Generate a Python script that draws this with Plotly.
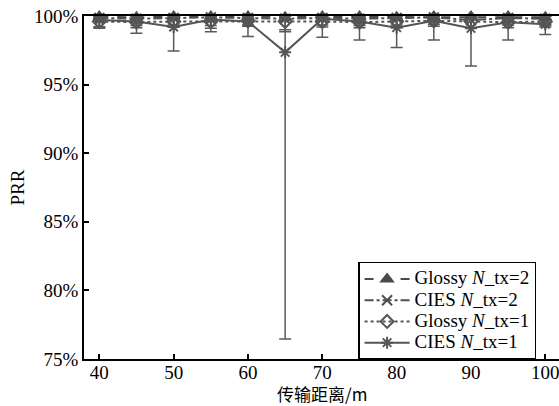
import plotly.graph_objects as go

# Transmission distance (m)
distance = [40, 45, 50, 55, 60, 65, 70, 75, 80, 85, 90, 95, 100]

# Packet reception ratio (%) per scheme
glossy_tx2 = [99.95, 99.9, 99.95, 99.95, 99.95, 99.9, 99.95, 99.95, 99.9, 99.95, 99.95, 99.95, 99.9]
cies_tx2 = [99.85, 99.8, 99.85, 99.9, 99.85, 99.8, 99.85, 99.8, 99.85, 99.9, 99.7, 99.85, 99.8]
glossy_tx1 = [99.6, 99.55, 99.6, 99.6, 99.65, 99.6, 99.6, 99.55, 99.6, 99.65, 99.6, 99.55, 99.6]
cies_tx1 = [99.7, 99.6, 99.2, 99.75, 99.6, 97.35, 99.8, 99.6, 99.15, 99.65, 99.1, 99.55, 99.4]

# Standard deviations (%)
glossy_tx2_err = [0.2, 0.2, 0.2, 0.2, 0.2, 0.2, 0.2, 0.2, 0.2, 0.2, 0.2, 0.2, 0.2]
cies_tx2_err = [0.65, 0.5, 0.5, 0.6, 0.5, 0.8, 0.5, 0.5, 0.5, 0.5, 0.6, 0.5, 0.5]
glossy_tx1_err = [0.4, 0.4, 0.4, 0.5, 0.4, 0.75, 0.4, 0.4, 0.4, 0.4, 0.5, 0.4, 0.4]
cies_tx1_err = [0.6, 0.85, 1.75, 0.9, 1.1, 20.9, 1.35, 1.35, 1.45, 1.4, 2.75, 1.3, 0.75]

y_ticks = [75, 80, 85, 90, 95, 100]
y_tick_text = ["75%", "80%", "85%", "90%", "95%", "100%"]
x_ticks = [40, 50, 60, 70, 80, 90, 100]

series = [
    ("Glossy <i>N</i>_tx=2", glossy_tx2, glossy_tx2_err, "dash", "triangle-up", "#4a4a4a"),
    ("CIES <i>N</i>_tx=2", cies_tx2, cies_tx2_err, "dashdot", "x-thin-open", "#505050"),
    ("Glossy <i>N</i>_tx=1", glossy_tx1, glossy_tx1_err, "dot", "diamond-open", "#555555"),
    ("CIES <i>N</i>_tx=1", cies_tx1, cies_tx1_err, "solid", "asterisk-open", "#555555"),
]

fig = go.Figure()
for name, vals, err, dash, symbol, color in series:
    upper = [min(e, 100 - v) for v, e in zip(vals, err)]
    fig.add_trace(go.Scatter(
        x=distance, y=vals, mode="lines+markers",
        name='<span style="font-size:19px">' + name + "</span>",
        line=dict(color=color, width=2, dash=dash),
        marker=dict(symbol=symbol, size=10, color=color,
                    line=dict(color=color, width=2)),
        error_y=dict(type="data", symmetric=False, array=upper, arrayminus=err,
                     color="#5a5a5a", thickness=1.5, width=6),
        cliponaxis=False,
    ))

serif = "Liberation Serif"
tick_font = dict(family=serif, size=19, color="black")

fig.update_layout(
    width=559, height=406,
    margin=dict(l=84, r=0, t=16, b=47),
    paper_bgcolor="white", plot_bgcolor="white",
    font=dict(family=serif, size=19, color="black"),
    showlegend=True,
    legend=dict(
        x=0.577, y=0.283, xanchor="left", yanchor="top",
        bgcolor="white", bordercolor="black", borderwidth=1.5,
        font=dict(family=serif, size=14, color="black"),
        tracegroupgap=0, itemwidth=45,
    ),
    xaxis=dict(
        range=[37.94, 101.84], tickvals=x_ticks, tickfont=tick_font,
        ticks="inside", ticklen=5, tickwidth=1.5, tickcolor="black",
        ticklabeloverflow="allow", ticklabelstandoff=-5,
        showline=True, linecolor="black", linewidth=1.5, mirror=True,
        showgrid=False, zeroline=False,
    ),
    yaxis=dict(
        range=[75, 100], tickvals=y_ticks, ticktext=y_tick_text, tickfont=tick_font,
        ticks="inside", ticklen=5, tickwidth=1.5, tickcolor="black",
        showline=True, linecolor="black", linewidth=1.5,
        showgrid=False, zeroline=False,
    ),
    annotations=[
        dict(text="传输距离/m", xref="paper", yref="paper", x=0.5, y=-0.1,
             xanchor="center", yanchor="middle", showarrow=False,
             font=dict(family="Noto Sans CJK SC", size=17, color="black")),
        dict(text="PRR", xref="paper", yref="paper", x=-0.141, y=0.5,
             xanchor="center", yanchor="middle", showarrow=False, textangle=-90,
             font=dict(family=serif, size=19, color="black")),
    ],
)

fig.write_html("out.html")
